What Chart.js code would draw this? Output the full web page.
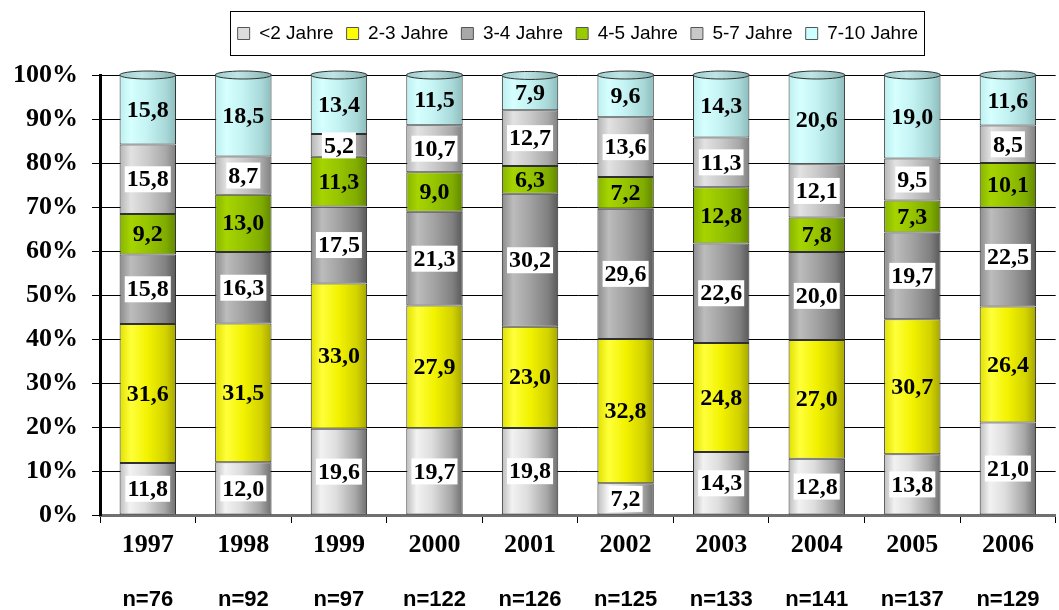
<!DOCTYPE html>
<html><head><meta charset="utf-8">
<script src="https://cdn.jsdelivr.net/npm/chart.js@4.4.1/dist/chart.umd.min.js"></script>
<style>
html,body{margin:0;padding:0;background:#fff;overflow:hidden;width:1059px;height:610px}
#wrap{width:1068px;height:610px;position:relative}
</style>
</head><body><div id="wrap"><canvas id="c"></canvas></div>
<script>
// ---- data ----
const years = ['1997','1998','1999','2000','2001','2002','2003','2004','2005','2006'];
const nLabels = ['n=76','n=92','n=97','n=122','n=126','n=125','n=133','n=141','n=137','n=129'];
const seriesNames = ['<2 Jahre','2-3 Jahre','3-4 Jahre','4-5 Jahre','5-7 Jahre','7-10 Jahre'];
const under2  = [11.8,12.0,19.6,19.7,19.8, 7.2,14.3,12.8,13.8,21.0];
const y2to3   = [31.6,31.5,33.0,27.9,23.0,32.8,24.8,27.0,30.7,26.4];
const y3to4   = [15.8,16.3,17.5,21.3,30.2,29.6,22.6,20.0,19.7,22.5];
const y4to5   = [ 9.2,13.0,11.3, 9.0, 6.3, 7.2,12.8, 7.8, 7.3,10.1];
const y5to7   = [15.8, 8.7, 5.2,10.7,12.7,13.6,11.3,12.1, 9.5, 8.5];
const y7to10  = [15.8,18.5,13.4,11.5, 7.9, 9.6,14.3,20.6,19.0,11.6];
const yTickLabels = ['0%','10%','20%','30%','40%','50%','60%','70%','80%','90%','100%'];

// ---- styles ----
const BAR_PCT = 0.59;
const legendColors = ['#dcdcdc','#ffff00','#a8a8a8','#99cc00','#c8c8c8','#ccffff'];
const gradStops = [
  [[0,'#bdbdbd'],[0.18,'#f2f2f2'],[0.45,'#dedede'],[0.8,'#a6a6a6'],[1,'#6e6e6e']],
  [[0,'#e0e000'],[0.2,'#ffff3a'],[0.5,'#f2f200'],[0.82,'#d2d200'],[1,'#a6a600']],
  [[0,'#8c8c8c'],[0.2,'#bcbcbc'],[0.5,'#a2a2a2'],[0.82,'#808080'],[1,'#585858']],
  [[0,'#86b400'],[0.2,'#a6d400'],[0.5,'#96c400'],[0.82,'#80ac00'],[1,'#628600']],
  [[0,'#b4b4b4'],[0.2,'#e2e2e2'],[0.5,'#cacaca'],[0.82,'#a8a8a8'],[1,'#808080']],
  [[0,'#bdeeee'],[0.2,'#d6ffff'],[0.5,'#c4f2f2'],[0.82,'#a8d8d8'],[1,'#8cbcbc']]
];
const whiteBox = [true,false,true,false,true,false];

function cyl(di){
  return (ctx)=>{
    const ch = ctx.chart, xs = ch.scales && ch.scales.x;
    if (!ch.chartArea || !xs || ctx.dataIndex === undefined) return legendColors[di];
    const cx = xs.getPixelForValue(ctx.dataIndex);
    const w = (xs.width / years.length) * BAR_PCT;
    const g = ch.ctx.createLinearGradient(cx - w/2, 0, cx + w/2, 0);
    gradStops[di].forEach(s => g.addColorStop(s[0], s[1]));
    return g;
  };
}

const seriesData = [under2, y2to3, y3to4, y4to5, y5to7, y7to10];
const datasets = seriesData.map((d,i)=>({
  label: seriesNames[i],
  data: d,
  backgroundColor: cyl(i),
  borderColor: '#303030',
  borderWidth: 1,
  borderSkipped: false,
  categoryPercentage: 1,
  barPercentage: BAR_PCT,
  xAxisID: 'x',
  yAxisID: 'y'
}));

// elliptical caps on the bar tops (cylinder look), from the top dataset's elements
const cylinderCaps = {
  id: 'cylinderCaps',
  afterDatasetsDraw(chart){
    const c = chart.ctx, area = chart.chartArea;
    const last = chart.data.datasets.length - 1;
    const meta = chart.getDatasetMeta(last);
    c.save();
    meta.data.forEach(el=>{
      const y = Math.max(el.y, area.top);
      const rx = el.width / 2, ry = 4;
      const g = c.createLinearGradient(el.x - rx, 0, el.x + rx, 0);
      g.addColorStop(0, '#9ccccc'); g.addColorStop(0.4, '#bfe6e6'); g.addColorStop(1, '#86b0b0');
      c.beginPath();
      c.ellipse(el.x, y, rx, ry, 0, 0, Math.PI * 2);
      c.fillStyle = g;
      c.fill();
      c.strokeStyle = '#303030';
      c.lineWidth = 1;
      c.stroke();
    });
    c.restore();
  }
};

const valueLabels = {
  id: 'valueLabels',
  afterDatasetsDraw(chart){
    const c = chart.ctx, area = chart.chartArea;
    c.save();
    c.font = 'bold 24px "Liberation Serif"';
    c.textAlign = 'center';
    c.textBaseline = 'middle';
    chart.data.datasets.forEach((ds, di)=>{
      const meta = chart.getDatasetMeta(di);
      meta.data.forEach((el, i)=>{
        const t = ds.data[i].toFixed(1).replace('.', ',');
        const top = Math.max(Math.min(el.y, el.base), area.top);
        const bot = Math.max(el.y, el.base);
        const y = (top + bot) / 2;
        const x = el.x;
        if (whiteBox[di]) {
          const w = c.measureText(t).width + 4;
          c.fillStyle = '#ffffff';
          c.fillRect(x - w/2, y - 13, w, 26);
        }
        c.fillStyle = '#000000';
        c.fillText(t, x, y + 1);
      });
    });
    c.restore();
  }
};

const legendBorder = {
  id: 'legendBorder',
  afterDraw(chart){
    const lg = chart.legend;
    if (!lg || !lg.legendHitBoxes || !lg.legendHitBoxes.length) return;
    const hb = lg.legendHitBoxes;
    let l = Infinity, r = -Infinity, t = Infinity, b = -Infinity;
    hb.forEach(h=>{ l=Math.min(l,h.left); r=Math.max(r,h.left+h.width); t=Math.min(t,h.top); b=Math.max(b,h.top+h.height); });
    const c = chart.ctx;
    c.save();
    c.strokeStyle = '#000';
    c.lineWidth = 1;
    c.strokeRect(Math.round(l - 8) + 0.5, Math.round(t - 13) + 0.5, Math.round(r - l + 14), Math.round(b - t + 25));
    c.restore();
  }
};

new Chart(document.getElementById('c'), {
  type: 'bar',
  data: { labels: years, datasets },
  options: {
    responsive: true,
    maintainAspectRatio: false,
    animation: false,
    layout: { padding: { top: 11, right: 0, left: 0, bottom: 0 } },
    plugins: {
      tooltip: { enabled: false },
      legend: {
        position: 'top',
        fullSize: false,
        labels: {
          font: { family: '"Liberation Sans"', size: 19 },
          color: '#000',
          boxWidth: 12,
          boxHeight: 12,
          padding: 13,
          generateLabels(chart){
            return chart.data.datasets.map((ds,i)=>({
              text: ds.label,
              fillStyle: legendColors[i],
              strokeStyle: '#555',
              lineWidth: 1,
              hidden: false,
              datasetIndex: i,
              fontColor: '#000'
            }));
          }
        }
      }
    },
    scales: {
      xTop: {
        type: 'category',
        labels: years,
        position: 'top',
        display: true,
        grid: { display: false, drawTicks: false },
        border: { display: false },
        ticks: { display: false },
        afterFit(s){ s.height = 22; }
      },
      x: {
        stacked: true,
        offset: true,
        grid: { display: true, drawOnChartArea: false, drawTicks: true, tickLength: 8, color: '#000', offset: true },
        border: { display: true, color: '#707070', width: 3 },
        ticks: { font: { family: '"Liberation Serif"', size: 26, weight: 'bold' }, color: '#000', padding: 7, maxRotation: 0 },
        afterFit(s){ s.height = 46; }
      },
      x2: {
        type: 'category',
        labels: nLabels,
        position: 'bottom',
        offset: true,
        grid: { display: false, drawTicks: false },
        border: { display: false },
        ticks: { font: { family: '"Liberation Sans"', size: 22, weight: 'bold', lineHeight: 1 }, color: '#000', padding: 28, maxRotation: 0 },
        afterFit(s){ s.height = 49; }
      },
      y: {
        stacked: true,
        min: 0,
        max: 100,
        ticks: {
          stepSize: 10,
          font: { family: '"Liberation Serif"', size: 26, weight: 'bold' },
          color: '#000',
          padding: 14,
          callback: (v, i) => yTickLabels[i]
        },
        grid: { color: '#000', lineWidth: 1, borderDash: [4,4], drawTicks: true, tickLength: 8, tickBorderDash: [] },
        border: { display: true, color: '#000', width: 3, dash: [] },
        afterFit(s){ s.width = 100; }
      }
    }
  },
  plugins: [valueLabels, cylinderCaps, legendBorder]
});
</script>
</body></html>
